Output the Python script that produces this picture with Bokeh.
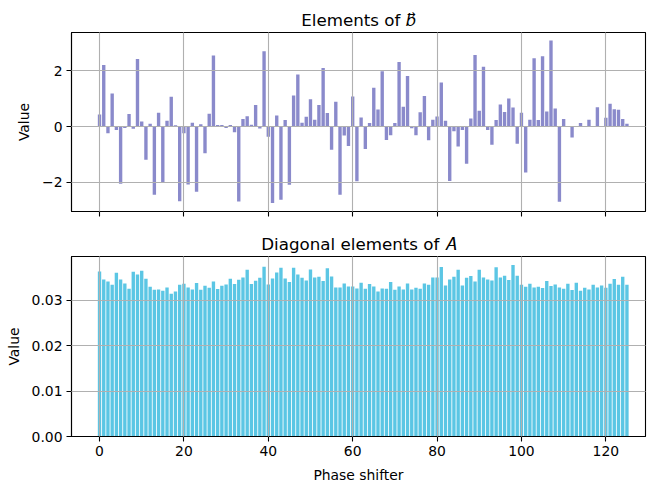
from bokeh.plotting import figure
from bokeh.layouts import column
from bokeh.models import (FixedTicker, CustomJSTickFormatter, NumeralTickFormatter, Range1d,
                          CustomLabelingPolicy)
from bokeh.embed import file_html
from bokeh.resources import INLINE

# ---- data ----
phase_shifter = list(range(126))

b_values = [
    0.43, 2.21, -0.24, 1.19, -0.12, -2.05, -0.05, 0.45, -0.08, 2.42,
    0.18, -1.19, 0.10, -2.44, 0.50, -2.01, 0.21, 1.07, 0.05, -2.67,
    -0.24, -2.07, 0.14, -2.33, 0.08, -0.95, 0.46, 2.55, 0.06, 0.06,
    -0.05, 0.06, -0.20, -2.68, 0.27, 0.37, 0.07, 0.77, -0.07, 2.70,
    -0.36, -2.74, 0.40, -2.62, 0.24, -2.08, 1.11, 1.87, 0.14, 0.35,
    0.98, 0.25, 0.77, 2.10, 0.49, -0.83, 0.89, -2.44, -0.32, -0.69,
    1.08, -1.96, 0.33, -0.80, 0.13, 1.39, 0.61, 1.98, -0.48, -0.31,
    0.13, 2.31, 0.71, 1.81, -0.06, -0.31, 0.51, 1.10, -0.49, 0.25,
    0.36, 1.58, 0.21, -1.95, -0.17, -0.71, -0.12, -1.33, 0.29, 2.56,
    0.57, 2.14, -0.12, -0.65, 0.24, 0.79, 0.52, 1.01, 0.68, -0.61,
    0.50, -1.64, 0.25, 2.45, 0.24, 2.52, 0.54, 3.08, 0.65, -2.69,
    0.27, 0.01, -0.39, 0.01, 0.13, 0.01, 0.25, 0.01, 0.69, 0.01,
    0.32, 0.82, 0.62, 0.60, 0.27, 0.10,
]

a_diag = [
    0.03632, 0.03456, 0.03412, 0.03338, 0.03603, 0.03456, 0.03368, 0.03250, 0.03625, 0.03566,
    0.03647, 0.03471, 0.03294, 0.03228, 0.03235, 0.03206, 0.03280, 0.03140, 0.03191, 0.03338,
    0.03360, 0.03280, 0.03235, 0.03375, 0.03228, 0.03316, 0.03272, 0.03412, 0.03243, 0.03316,
    0.03346, 0.03471, 0.03353, 0.03449, 0.03500, 0.03669, 0.03353, 0.03426, 0.03493, 0.03735,
    0.03346, 0.03478, 0.03610, 0.03713, 0.03478, 0.03397, 0.03713, 0.03566, 0.03493, 0.03434,
    0.03676, 0.03500, 0.03515, 0.03419, 0.03699, 0.03522, 0.03280, 0.03280, 0.03368, 0.03301,
    0.03301, 0.03257, 0.03382, 0.03250, 0.03353, 0.03301, 0.03191, 0.03257, 0.03250, 0.03397,
    0.03228, 0.03301, 0.03235, 0.03368, 0.03235, 0.03272, 0.03250, 0.03368, 0.03338, 0.03500,
    0.03500, 0.03728, 0.03324, 0.03456, 0.03515, 0.03669, 0.03324, 0.03493, 0.03530, 0.03412,
    0.03669, 0.03500, 0.03456, 0.03434, 0.03721, 0.03500, 0.03537, 0.03441, 0.03772, 0.03537,
    0.03338, 0.03294, 0.03360, 0.03280, 0.03294, 0.03265, 0.03419, 0.03309, 0.03346, 0.03280,
    0.03250, 0.03360, 0.03221, 0.03382, 0.03206, 0.03272, 0.03235, 0.03338, 0.03280, 0.03324,
    0.03272, 0.03360, 0.03463, 0.03338, 0.03515, 0.03338,
]

x_ticks = [0, 20, 40, 60, 80, 100, 120]
top_y_ticks = [-2, 0, 2]
bottom_y_ticks = [0.0, 0.01, 0.02, 0.03]

top_title = "Elements of \U0001D44F\u20d7"
bottom_title = "Diagonal elements of \U0001D434"
x_label = "Phase shifter"
y_label = "Value"

FONT = "DejaVu Sans"
TICK_SIZE = "13.9px"
GRID = "#b0b0b0"


def style(p):
    p.outline_line_color = "black"
    p.outline_line_width = 1.1
    p.title.text_font = FONT
    p.title.text_font_size = "16.7px"
    p.title.text_font_style = "normal"
    p.title.align = "center"
    p.title.text_color = "black"
    p.title.standoff = 6
    for ax in (p.xaxis[0], p.yaxis[0]):
        ax.axis_line_color = "black"
        ax.axis_line_width = 1.1
        ax.major_tick_line_color = "black"
        ax.major_tick_line_width = 1.1
        ax.major_tick_out = 5
        ax.major_tick_in = 0
        ax.minor_tick_line_color = None
        ax.major_label_text_font = FONT
        ax.major_label_text_font_size = TICK_SIZE
        ax.major_label_text_color = "black"
        ax.major_label_standoff = 4
        ax.axis_label_text_font = FONT
        ax.axis_label_text_font_size = TICK_SIZE
        ax.axis_label_text_font_style = "normal"
        ax.axis_label_text_color = "black"
    for g in (p.xgrid[0], p.ygrid[0]):
        g.grid_line_color = GRID
        g.grid_line_width = 1.1
        g.level = "annotation"
    p.xaxis[0].ticker = FixedTicker(ticks=x_ticks)


x_range = Range1d(-6.64, 129.4)

top = figure(width=649, height=228, output_backend="svg", toolbar_location=None,
             x_range=x_range, y_range=Range1d(-3.04, 3.37), title=top_title,
             min_border_left=71, min_border_right=4, min_border_top=32, min_border_bottom=17)
top.vbar(x=phase_shifter, top=b_values, width=0.8, bottom=0, fill_color="#8a8acb", line_color=None)
style(top)
top.yaxis[0].ticker = FixedTicker(ticks=top_y_ticks)
top.yaxis[0].formatter = CustomJSTickFormatter(code="return tick < 0 ? '\u2212' + Math.abs(tick) : String(tick);")
top.yaxis[0].axis_label = y_label
top.yaxis[0].axis_label_standoff = 7
# shared x axis: ticks only, no labels
top.xaxis[0].major_label_text_font_size = "1px"
top.xaxis[0].major_label_standoff = 1
top.xaxis[0].major_label_policy = CustomLabelingPolicy(code="""
try { const n = indices.size; for (let i = 0; i < n; i++) { indices.unset(i) } } catch (e) {}
return indices
""")

bottom = figure(width=649, height=257, output_backend="svg", toolbar_location=None,
                x_range=x_range, y_range=Range1d(0, 0.0396), title=bottom_title,
                min_border_left=71, min_border_right=4, min_border_top=28, min_border_bottom=49)
bottom.vbar(x=phase_shifter, top=a_diag, width=0.8, bottom=0, fill_color="#5bc6e4", line_color=None)
style(bottom)
bottom.yaxis[0].ticker = FixedTicker(ticks=bottom_y_ticks)
bottom.yaxis[0].formatter = NumeralTickFormatter(format="0.00")
bottom.yaxis[0].axis_label = y_label
bottom.yaxis[0].axis_label_standoff = 7
bottom.xaxis[0].axis_label = x_label
bottom.xaxis[0].axis_label_standoff = 8

layout = column(top, bottom, spacing=0)
open("out.html", "w").write(file_html(layout, INLINE))
